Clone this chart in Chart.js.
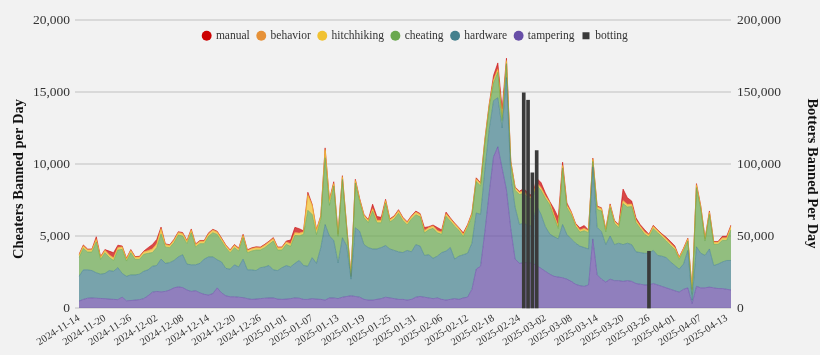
<!DOCTYPE html>
<html><head><meta charset="utf-8">
<script src="https://cdn.jsdelivr.net/npm/chart.js@4.4.1/dist/chart.umd.min.js"></script>
<style>html,body{margin:0;padding:0;background:#f2f2f2;}#c{display:block;}</style>
</head><body>
<canvas id="c" width="820" height="355"></canvas>
<script>
const startDate = '2024-11-14';
const dayCount = 152;

const manual = [
40,50,40,30,150,40,40,250,350,150,
50,40,40,30,40,40,200,300,300,100,
40,40,50,40,50,40,50,40,40,40,
50,40,40,40,30,40,40,40,50,40,
40,40,40,50,40,50,40,40,50,250,
350,300,60,150,40,40,40,100,40,100,
40,50,40,20,50,40,40,40,300,250,
200,60,40,40,50,40,40,50,60,50,
200,60,50,200,150,100,50,40,40,100,
50,50,60,40,50,50,300,400,600,150,
40,40,50,150,200,40,300,350,200,50,
400,600,200,150,40,40,150,200,40,40,
50,40,40,60,40,40,800,450,200,150,
100,150,40,50,40,40,100,120,100,40,
40,40,20,60,50,40,50,40,40,100,
100,60];

const behavior = [
60,60,50,60,70,50,60,60,60,60,
60,50,60,50,50,60,60,60,60,70,
60,50,60,60,60,60,70,60,60,60,
60,70,60,60,50,50,60,50,60,50,
60,60,50,60,60,60,60,50,60,60,
70,60,60,100,70,60,60,80,60,60,
50,70,50,30,70,60,60,60,60,60,
60,70,60,60,70,60,60,60,60,60,
60,50,60,60,50,60,60,60,50,50,
60,60,70,60,70,80,80,90,70,80,
60,60,60,60,60,50,60,60,60,60,
60,60,70,60,60,50,50,50,50,60,
60,60,50,60,60,60,70,60,60,60,
50,60,50,60,50,50,50,50,50,40,
50,50,40,70,60,50,60,50,50,60,
60,70];

const hitchhiking = [
120,130,110,120,140,110,120,120,130,120,
130,110,120,110,120,120,130,200,200,300,
120,110,120,130,130,120,140,110,120,120,
130,130,120,120,110,110,120,110,130,110,
120,120,110,120,120,130,110,120,120,130,
140,130,130,1000,600,250,150,500,300,140,
110,140,110,60,140,120,120,110,130,120,
120,140,110,120,130,120,110,120,130,120,
110,110,120,110,100,130,120,120,110,100,
110,120,130,120,130,140,150,160,140,150,
120,120,120,120,110,110,130,130,120,120,
120,110,140,120,110,110,100,110,100,130,
120,120,110,130,110,110,140,130,130,120,
110,110,100,120,110,110,100,110,100,90,
100,110,300,150,130,100,130,110,110,120,
120,200];

const cheating = [
1300,1490,1240,1290,2140,1030,1440,920,750,1230,
1670,1060,1540,1080,1030,1180,1150,950,1250,1750,
1140,1040,1240,1520,1300,1420,2230,1240,1370,1070,
1430,1680,1760,1450,1440,1140,1190,1110,1480,1190,
1310,1430,1230,1340,1470,2000,1430,1230,1470,1430,
1940,1720,2160,3890,2990,2000,1960,4640,2130,3770,
1850,4050,1180,140,3110,2050,1880,1730,2620,1820,
1720,2940,1880,2180,2680,2230,1780,2280,2080,2030,
1570,1730,2080,1620,1270,2420,1830,2280,1780,1270,
1780,1880,2180,1980,1880,1480,1220,1770,520,970,
780,1180,2080,2070,1920,1880,1420,1670,1970,2030,
1370,720,3920,1870,1680,1180,970,1170,1130,380,
1250,1440,880,1980,1480,1080,2850,2520,2640,2030,
1670,1320,1130,1510,1580,1350,1160,1140,1110,680,
910,650,390,4110,3050,1000,2400,1470,1370,1500,
1400,2130];

const hardware = [
1730,2050,1970,1900,1770,1690,1750,1980,1950,2220,
1650,1700,1780,1750,1770,1900,1800,1800,1800,2280,
1950,1900,1900,2080,2280,1800,1850,1800,2050,2450,
2650,2550,1950,2150,1900,1920,2220,2100,2680,2000,
2050,1980,2150,2170,2250,1950,1980,2200,2330,2200,
2400,2620,2350,2300,2850,2480,3600,5250,4300,4000,
2480,4130,3500,1150,4770,4580,3800,3650,3550,3500,
3550,3590,3400,3350,3300,3250,3450,3300,3650,3500,
2900,3000,2800,2900,3250,3400,3600,2750,3000,3000,
3050,3200,3900,3600,4300,4400,3900,3400,2800,7800,
3700,3600,2700,2750,2550,2600,4150,3750,3100,2800,
2750,2650,3700,3100,2950,2850,2750,2700,2500,5000,
3300,3300,2600,3000,2500,2600,2550,2600,2550,2200,
2200,2200,2200,2300,2050,2100,2100,1900,1750,1600,
1750,2600,250,2750,2400,2250,2650,1550,1700,1850,
2000,2050];

const tampering = [
470,600,680,700,680,660,650,620,600,580,
750,500,520,550,580,650,850,1100,1150,1120,
1150,1250,1400,1470,1420,1250,1150,1200,1050,950,
900,1000,1400,1050,850,780,780,750,720,650,
600,620,650,680,700,700,620,600,620,650,
700,680,600,600,650,620,600,550,700,700,
650,750,800,850,800,750,600,550,550,600,
650,750,700,650,600,600,550,600,750,800,
750,700,650,700,600,550,600,650,600,700,
750,1300,2700,2900,5300,8000,10500,11200,9700,8200,
5500,3400,3100,3150,3150,3100,2950,2750,2550,2350,
2200,2150,2100,2000,1850,1650,1550,1500,1600,4800,
2300,2000,1800,2000,1900,1900,1850,1900,1850,1700,
1650,1600,1600,1700,1600,1500,1400,1300,1200,1100,
1300,1400,300,1500,1400,1400,1450,1400,1350,1350,
1300,1250];

const bottingDates = ['2025-02-25','2025-02-26','2025-02-27','2025-02-28','2025-03-26'];
const bottingValues = [149400,144300,93900,109400,39400];

const leftTicks = [0,5000,10000,15000,20000];
const rightTicks = [0,50000,100000,150000,200000];

// category labels: consecutive days
const labels = [];
const t0 = Date.parse(startDate + 'T00:00:00Z');
for (let i = 0; i < dayCount; i++) labels.push(new Date(t0 + i * 86400000).toISOString().slice(0, 10));
const botting = labels.map(l => { const k = bottingDates.indexOf(l); return k >= 0 ? bottingValues[k] : null; });

const FONT = '"Liberation Serif", "DejaVu Serif", serif';
function rgba(hex, a) {
  const n = parseInt(hex.slice(1), 16);
  return `rgba(${n >> 16},${(n >> 8) & 255},${n & 255},${a})`;
}
const COL = {
  manual: '#cc0000', behavior: '#e69138', hitchhiking: '#f1c232',
  cheating: '#6aa84f', hardware: '#45818e', tampering: '#674ea7', botting: '#3a3a3a'
};
function area(label, data, fill) {
  return {
    type: 'line', label, data, yAxisID: 'y', fill,
    backgroundColor: rgba(COL[label], 0.7), borderColor: rgba(COL[label], 0.7),
    borderWidth: 0.8, pointRadius: 0, pointHoverRadius: 0, tension: 0, pointStyle: 'circle'
  };
}
const datasets = [
  { type: 'bar', label: 'botting', data: botting, yAxisID: 'y1', backgroundColor: COL.botting,
    borderWidth: 0, barThickness: 3, pointStyle: 'rect' },
  area('tampering', tampering, 'origin'),
  area('hardware', hardware, '-1'),
  area('cheating', cheating, '-1'),
  area('hitchhiking', hitchhiking, '-1'),
  area('behavior', behavior, '-1'),
  area('manual', manual, '-1')
];

// legend drawn over the plot: keep it from taking layout space
const legendOverlay = {
  id: 'legendOverlay',
  afterInit(chart) {
    const lg = chart.legend;
    if (!lg) return;
    const fit = lg.fit;
    lg.fit = function () { fit.call(this); this._realH = this.height; this.height = 0; };
  },
  afterLayout(chart) {
    const lg = chart.legend;
    if (lg && lg._realH) { lg.top += 2; lg.height = lg._realH; lg.bottom = lg.top + lg._realH; }
    // axis titles sit a little below the plot centre in the reference
    chart.scales.y.bottom += 30;
    chart.scales.y1.bottom += 19;
  }
};

new Chart(document.getElementById('c'), {
  type: 'line',
  data: { labels, datasets },
  plugins: [legendOverlay],
  options: {
    responsive: false, animation: false, devicePixelRatio: 1,
    layout: { padding: { left: 11, right: 0, top: 20, bottom: 0 } },
    plugins: {
      tooltip: { enabled: false },
      legend: {
        position: 'top', align: 'center', reverse: true,
        labels: {
          usePointStyle: true, boxWidth: 7, boxHeight: 7, padding: 8,
          color: '#333', font: { family: FONT, size: 11.5 },
          generateLabels(chart) {
            const items = Chart.defaults.plugins.legend.labels.generateLabels(chart);
            items.forEach(it => { const c = COL[it.text]; it.fillStyle = c; it.strokeStyle = c; it.lineWidth = 0; });
            return items;
          }
        }
      }
    },
    scales: {
      x: {
        type: 'category', offset: false,
        grid: { display: false, offset: false, drawTicks: false },
        border: { display: false },
        ticks: {
          autoSkip: false, minRotation: 32, maxRotation: 32, padding: 4,
          color: '#333', font: { family: FONT, size: 10.5 },
          callback(v, i) { return i % 6 === 0 ? labels[i] : ''; }
        },
        afterFit(s) { s.height = 47; }
      },
      y: {
        position: 'left', stacked: true, min: 0, max: 20000,
        afterBuildTicks(s) { s.ticks = leftTicks.map(v => ({ value: v })); },
        grid: { color: '#d9d9d9', lineWidth: 2, tickLength: 4, drawTicks: true },
        border: { display: false },
        ticks: { padding: 5, color: '#333', font: { family: FONT, size: 13.5 },
          callback(v) { return Number(v).toLocaleString('en-US'); } },
        title: { display: true, text: 'Cheaters Banned per Day', color: '#111', padding: 0,
          font: { family: FONT, size: 14.5, weight: 'bold' } },
        afterFit(s) { s.width = 68; }
      },
      y1: {
        position: 'right', min: 0, max: 200000,
        afterBuildTicks(s) { s.ticks = rightTicks.map(v => ({ value: v })); },
        grid: { display: false, drawTicks: false, tickLength: 0 },
        border: { display: false },
        ticks: { padding: 6, color: '#333', font: { family: FONT, size: 13.5 },
          callback(v) { return Number(v).toLocaleString('en-US'); } },
        title: { display: true, text: 'Botters Banned Per Day', color: '#111', padding: 0,
          font: { family: FONT, size: 14.5, weight: 'bold' } },
        afterFit(s) { s.width = 89; }
      }
    }
  }
});
</script>
</body></html>
